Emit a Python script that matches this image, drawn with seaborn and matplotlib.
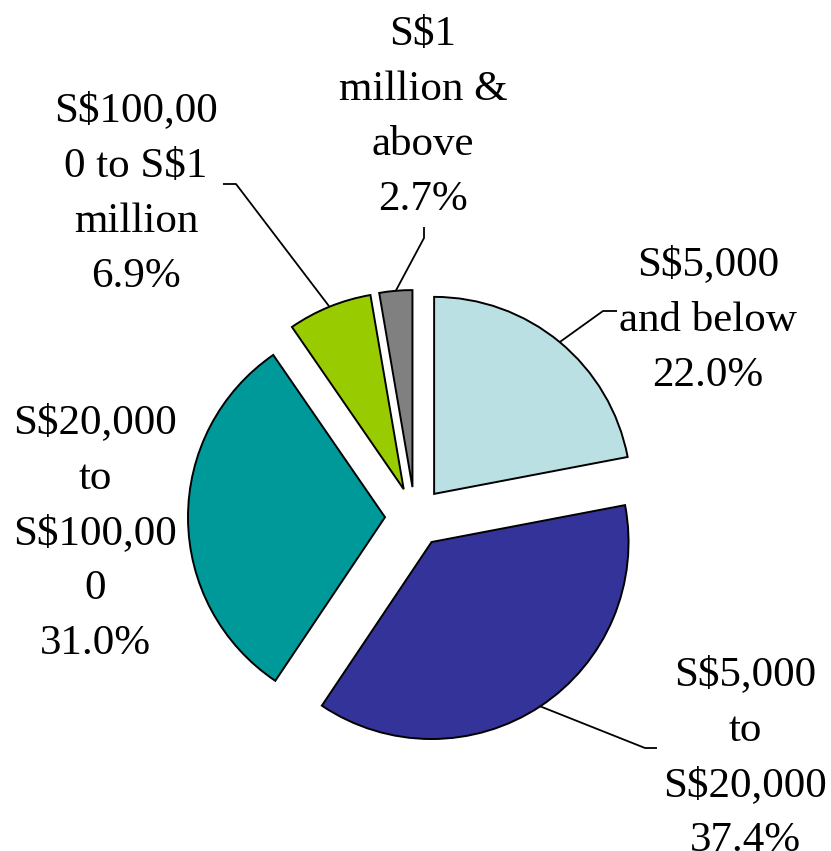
import matplotlib
matplotlib.use("Agg")
import matplotlib.pyplot as plt
import seaborn as sns
import numpy as np

# ---- data ----
categories = ["S$5,000\nand below", "S$5,000\nto\nS$20,000", "S$20,000\nto\nS$100,00\n0",
              "S$100,00\n0 to S$1\nmillion", "S$1\nmillion &\nabove"]
shares = [22.0, 37.4, 31.0, 6.9, 2.7]
colors = ["#BBE0E3", "#333399", "#009999", "#99CC00", "#808080"]

# ---- layout (pixel positions in the 831x851 canvas) ----
W, H = 831, 851
CX, CY, R = 415, 517, 197
label_top = [(708, 246), (745, 656), (95, 404), (136, 92), (423, 15)]
leader_pts = [[(603, 311), (617, 311)],
              [(645, 748), (657, 748)],
              None,
              [(236, 184), (223, 184)],
              [(424, 238), (424, 227)]]


def px(x, y):
    return (x - CX) / R, (CY - y) / R


sns.set_theme(style="white")
plt.rcParams["font.family"] = ["Liberation Serif", "DejaVu Serif"]

fig = plt.figure(figsize=(W / 100, H / 100), dpi=100)
ax = fig.add_axes([0, 0, 1, 1])

explode = [30 / R] * len(shares)
wedges, _ = ax.pie(shares, colors=colors, startangle=90, counterclock=False,
                   explode=explode, radius=1,
                   wedgeprops=dict(edgecolor="black", linewidth=1.4))

ax.set_xlim(-CX / R, (W - CX) / R)
ax.set_ylim((CY - H) / R, CY / R)
ax.set_aspect("equal")
ax.axis("off")

for w, cat, val, lt, lp in zip(wedges, categories, shares, label_top, leader_pts):
    x, y = px(*lt)
    ax.text(x, y, f"{cat}\n{val:.1f}%", ha="center", va="top",
            fontsize=31, linespacing=1.565, color="black")
    if lp is not None:
        th = np.deg2rad((w.theta1 + w.theta2) / 2)
        cx, cy = w.center
        sx, sy = cx + w.r * np.cos(th), cy + w.r * np.sin(th)
        pts = [(sx, sy)] + [px(*p) for p in lp]
        ax.plot([p[0] for p in pts], [p[1] for p in pts], color="black", lw=1.3,
                solid_capstyle="butt")

fig.savefig("out.png", dpi=100)
